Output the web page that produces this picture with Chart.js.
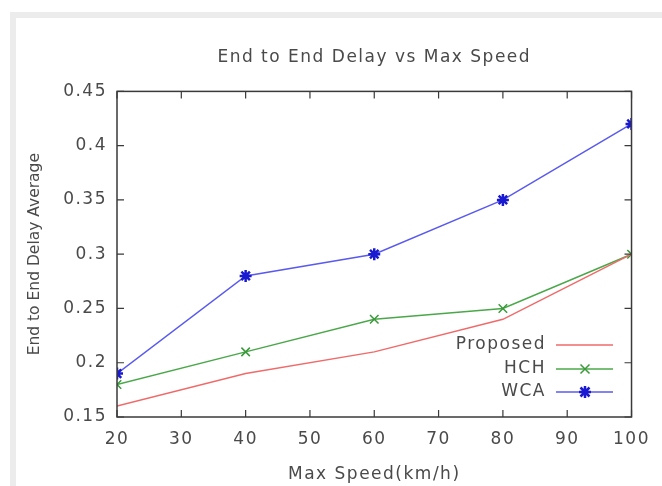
<!DOCTYPE html>
<html>
<head>
<meta charset="utf-8">
<script src="https://cdn.jsdelivr.net/npm/chart.js@4/dist/chart.umd.min.js"></script>
<style>
  html, body { margin: 0; padding: 0; background: #ffffff; }
  #frame { position: absolute; left: 10px; top: 12px; width: 652px; height: 474px;
           border-top: 6px solid #ececec; border-left: 6px solid #ececec; box-sizing: border-box; }
  #wrap { position: absolute; left: 0; top: 0; width: 662px; height: 486px; }
</style>
</head>
<body>
<div id="frame"></div>
<div id="wrap"><canvas id="c" width="662" height="486"></canvas></div>
<script>
// ---- data ----
const speeds = [20, 40, 60, 80, 100];
const proposed = [0.16, 0.19, 0.21, 0.24, 0.30];
const hch = [0.18, 0.21, 0.24, 0.25, 0.30];
const wca = [0.19, 0.28, 0.30, 0.35, 0.42];
const xTicks = [20, 30, 40, 50, 60, 70, 80, 90, 100];
const yTicks = [0.15, 0.2, 0.25, 0.3, 0.35, 0.4, 0.45];
const seriesNames = ['Proposed', 'HCH', 'WCA'];
const titleText = 'End to End Delay vs Max Speed';
const xTitle = 'Max Speed(km/h)';
const yTitle = 'End to End Delay Average';

const TEXT = '#4a4a4a';
const FONT = 'DejaVu Sans';
const SPACING = '1.5px';

function pts(arr) { return speeds.map((s, i) => ({ x: s, y: arr[i] })); }

const spacingPlugin = {
  id: 'spacing',
  beforeUpdate(chart) { chart.ctx.letterSpacing = SPACING; },
  beforeDraw(chart) { chart.ctx.letterSpacing = SPACING; }
};

const framePlugin = {
  id: 'gnuframe',
  afterDatasetsDraw(chart) {
    const ctx = chart.ctx, a = chart.chartArea;
    const xs = chart.scales.x, ys = chart.scales.y;
    ctx.save();
    ctx.strokeStyle = '#3a3a3a';
    ctx.lineWidth = 1.5;
    ctx.strokeRect(a.left, a.top, a.right - a.left, a.bottom - a.top);
    ctx.lineWidth = 1.2;
    const L = 7;
    ctx.beginPath();
    xs.ticks.forEach(t => {
      const px = xs.getPixelForValue(t.value);
      ctx.moveTo(px, a.bottom); ctx.lineTo(px, a.bottom - L);
      ctx.moveTo(px, a.top); ctx.lineTo(px, a.top + L);
    });
    ys.ticks.forEach(t => {
      const py = ys.getPixelForValue(t.value);
      ctx.moveTo(a.left, py); ctx.lineTo(a.left + L, py);
      ctx.moveTo(a.right, py); ctx.lineTo(a.right - L, py);
    });
    ctx.stroke();

    // y axis title (rotated, no extra spacing)
    ctx.save();
    ctx.letterSpacing = '0px';
    ctx.font = '15.5px "' + FONT + '"';
    ctx.fillStyle = TEXT;
    ctx.textAlign = 'center';
    ctx.textBaseline = 'middle';
    ctx.translate(35, (a.top + a.bottom) / 2);
    ctx.rotate(-Math.PI / 2);
    ctx.fillText(yTitle, 0, 0);
    ctx.restore();

    // legend (gnuplot style, inside bottom-right)
    const rowsY = [345, 369, 392];
    const textRight = 546, lineL = 556, lineR = 613, markX = 585;
    ctx.font = '17px "' + FONT + '"';
    ctx.textAlign = 'right';
    ctx.textBaseline = 'middle';
    chart.data.datasets.forEach((ds, i) => {
      const y = rowsY[i];
      ctx.fillStyle = TEXT;
      ctx.fillText(ds.label, textRight, y);
      ctx.strokeStyle = ds.borderColor;
      ctx.lineWidth = ds.borderWidth;
      ctx.beginPath(); ctx.moveTo(lineL, y); ctx.lineTo(lineR, y); ctx.stroke();
      if (ds.pointRadius > 0) {
        const r = ds.pointRadius;
        ctx.strokeStyle = ds.pointBorderColor;
        ctx.lineWidth = ds.pointBorderWidth;
        ctx.beginPath();
        ctx.moveTo(markX - r * 0.75, y - r * 0.75); ctx.lineTo(markX + r * 0.75, y + r * 0.75);
        ctx.moveTo(markX - r * 0.75, y + r * 0.75); ctx.lineTo(markX + r * 0.75, y - r * 0.75);
        if (ds.pointStyle === 'star') {
          ctx.moveTo(markX - r, y); ctx.lineTo(markX + r, y);
          ctx.moveTo(markX, y - r); ctx.lineTo(markX, y + r);
        }
        ctx.stroke();
      }
    });
    ctx.restore();
  }
};

new Chart(document.getElementById('c'), {
  type: 'line',
  data: {
    datasets: [
      { label: seriesNames[0], data: pts(proposed), borderColor: '#f06a6a', borderWidth: 1.5,
        pointRadius: 0, pointHoverRadius: 0, pointStyle: false, tension: 0 },
      { label: seriesNames[1], data: pts(hch), borderColor: '#4aa84a', borderWidth: 1.5,
        pointStyle: 'crossRot', pointRadius: 6, pointBorderColor: '#3a9a3a', pointBorderWidth: 1.5,
        pointBackgroundColor: '#3a9a3a', tension: 0 },
      { label: seriesNames[2], data: pts(wca), borderColor: '#5a5af0', borderWidth: 1.5,
        pointStyle: 'star', pointRadius: 6, pointBorderColor: '#1a1ad0', pointBorderWidth: 2.5,
        pointBackgroundColor: '#1a1ad0', tension: 0 }
    ]
  },
  options: {
    responsive: false,
    animation: false,
    events: [],
    layout: { padding: { left: 0, right: 26, top: 0, bottom: 0 } },
    plugins: {
      legend: { display: false },
      tooltip: { enabled: false },
      title: {
        display: true, text: titleText, color: TEXT, fullSize: false,
        font: { family: FONT, size: 17, weight: 'normal' },
        padding: { top: 47, bottom: 24 }
      }
    },
    scales: {
      x: {
        type: 'linear', min: 20, max: 100,
        afterBuildTicks: s => { s.ticks = xTicks.map(v => ({ value: v })); },
        afterFit: s => { s.height = 69; },
        grid: { display: false, drawTicks: false },
        border: { display: false },
        ticks: { color: TEXT, font: { family: FONT, size: 17 }, padding: 12,
                 maxRotation: 0, autoSkip: false, callback: v => String(v) },
        title: { display: true, text: xTitle, color: TEXT, padding: 1,
                 font: { family: FONT, size: 17 } }
      },
      y: {
        type: 'linear', min: 0.15, max: 0.45,
        afterBuildTicks: s => { s.ticks = yTicks.map(v => ({ value: v })); },
        afterFit: s => { s.width = 117; },
        grid: { display: false, drawTicks: false },
        border: { display: false },
        ticks: { color: TEXT, font: { family: FONT, size: 17 }, padding: 10,
                 autoSkip: false, callback: v => String(+v.toFixed(2)) },
        title: { display: false, text: yTitle }
      }
    }
  },
  plugins: [spacingPlugin, framePlugin]
});
</script>
</body>
</html>
